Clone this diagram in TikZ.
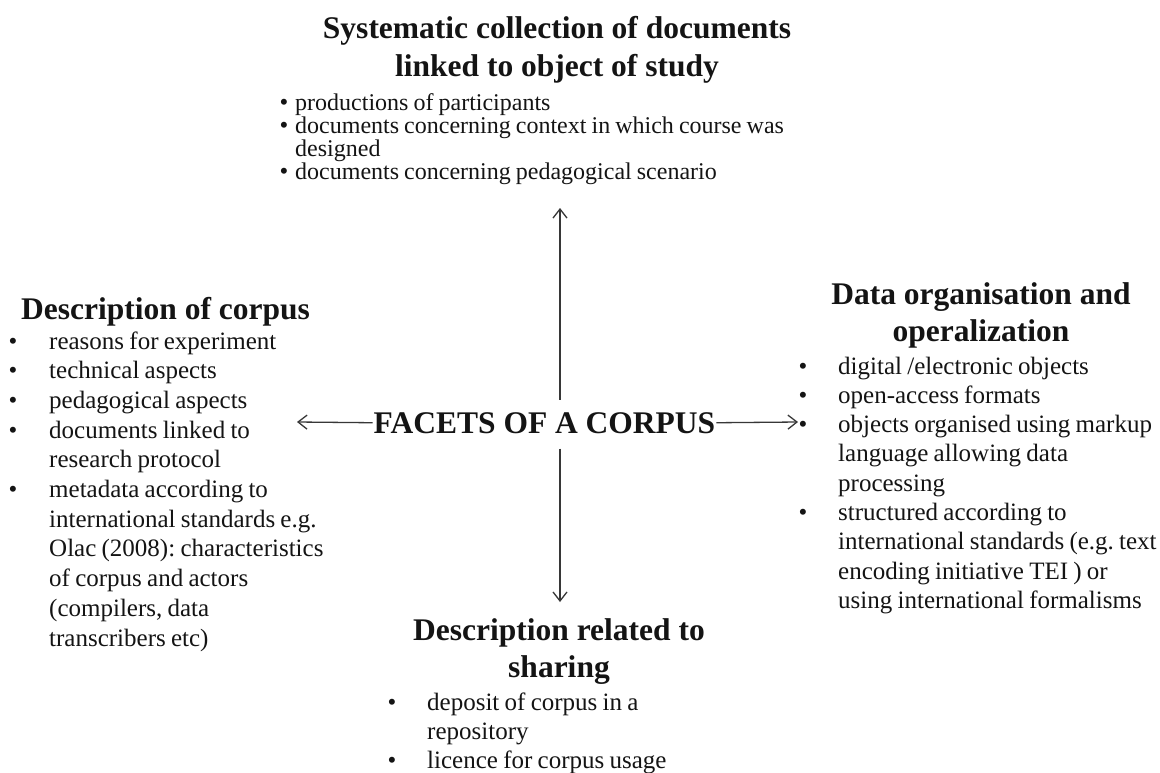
\documentclass[tikz,border=0pt]{standalone}
\usepackage{fontspec}
\setmainfont{Liberation Serif}
\usetikzlibrary{arrows.meta}
\definecolor{ink}{RGB}{20,20,20}
\definecolor{wire}{RGB}{55,55,55}
\frenchspacing
\newcommand{\tightsp}{\spaceskip=0.21em plus 0.1em minus 0.05em\relax}
\begin{document}
\begin{tikzpicture}[x=1pt,y=-1pt,
  hd/.style={inner sep=0, anchor=base, text=ink, font=\bfseries\fontsize{31.5}{37}\selectfont},
  txt/.style={inner sep=0, anchor=base west, text=ink, font=\fontsize{25}{29.5}\selectfont\tightsp},
  ttxt/.style={inner sep=0, anchor=base west, text=ink, font=\fontsize{24}{24}\selectfont\tightsp},
  bul/.style={inner sep=0, anchor=base, text=ink, font=\fontsize{25}{29.5}\selectfont},
  conn/.style={draw=wire, line width=1.3pt, -{Straight Barb[length=9pt,width=14pt,line width=1.3pt]}}]
\path[fill=white, use as bounding box] (0,0) rectangle (1160,772);

% centre
\node[hd] (fc) at (544.5,433) {FACETS OF A CORPUS};

% top block
\node[hd] (th1) at (557,38) {Systematic collection of documents};
\node[hd] (th2) at (557,76) {linked to object of study};
\node[bul] (tb1) at (284,110) {•};
\node[ttxt] (t1) at (295,110) {productions of participants};
\node[bul] (tb2) at (284,133) {•};
\node[ttxt] (t2) at (295,133) {documents concerning context in which course was};
\node[ttxt] (t3) at (295,156) {designed};
\node[bul] (tb3) at (284,179) {•};
\node[ttxt] (t4) at (295,179) {documents concerning pedagogical scenario};

% left block
\node[hd, anchor=base west] (lh) at (21,319) {Description of corpus};
\node[bul] (lb1) at (13,349) {•};
\node[txt] (l1) at (49,349) {reasons for experiment};
\node[bul] (lb2) at (13,378.7) {•};
\node[txt] (l2) at (49,378.7) {technical aspects};
\node[bul] (lb3) at (13,408.4) {•};
\node[txt] (l3) at (49,408.4) {pedagogical aspects};
\node[bul] (lb4) at (13,438.1) {•};
\node[txt] (l4) at (49,438.1) {documents linked to};
\node[txt] (l5) at (49,467.8) {research protocol};
\node[bul] (lb5) at (13,497.5) {•};
\node[txt] (l6) at (49,497.5) {metadata according to};
\node[txt] (l7) at (49,527.2) {international standards e.g.};
\node[txt] (l8) at (49,556.9) {Olac (2008): characteristics};
\node[txt] (l9) at (49,586.6) {of corpus and actors};
\node[txt] (l10) at (49,616.3) {(compilers, data};
\node[txt] (l11) at (49,646) {transcribers etc)};

% right block
\node[hd] (rh1) at (981,304) {Data organisation and};
\node[hd] (rh2) at (981,341) {operalization};
\node[bul] (rb1) at (803,374) {•};
\node[txt] (r1) at (838,374) {digital /electronic objects};
\node[bul] (rb2) at (803,403.3) {•};
\node[txt] (r2) at (838,403.3) {open-access formats};
\node[bul] (rb3) at (803,432.6) {•};
\node[txt] (r3) at (838,432.6) {objects organised using markup};
\node[txt] (r4) at (838,461.9) {language allowing data};
\node[txt] (r5) at (838,491.2) {processing};
\node[bul] (rb4) at (803,520.5) {•};
\node[txt] (r6) at (838,520.5) {structured according to};
\node[txt] (r7) at (838,549.8) {international standards (e.g. text};
\node[txt] (r8) at (838,579.1) {encoding initiative TEI ) or};
\node[txt] (r9) at (838,608.4) {using international formalisms};

% bottom block
\node[hd] (bh1) at (559,640) {Description related to};
\node[hd] (bh2) at (559,677) {sharing};
\node[bul] (bb1) at (392,710) {•};
\node[txt] (b1) at (427,710) {deposit of corpus in a};
\node[txt] (b2) at (427,739) {repository};
\node[bul] (bb2) at (392,768) {•};
\node[txt] (b3) at (427,768) {licence for corpus usage};

% connector ends
\coordinate (upT) at (560,208);
\coordinate (dnT) at (560,602);
\coordinate (lT) at (297,422);
\coordinate (rT) at (798,422);

\draw[conn] ([yshift=12pt]fc.north -| upT) -- (upT);
\draw[conn] ([yshift=-15pt]fc.south -| dnT) -- (dnT);
\draw[conn] ([xshift=-1pt]fc.west) -- (lT);
\draw[conn] ([xshift=1pt]fc.east) -- (rT);
\end{tikzpicture}
\end{document}
